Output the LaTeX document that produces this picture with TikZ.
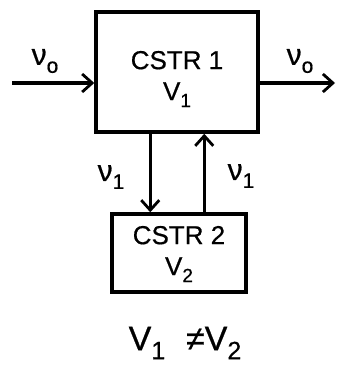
\documentclass[tikz,border=0pt]{standalone}
\usepackage{fontspec}
\setmainfont[FakeBold=0.6]{Liberation Sans}
\usetikzlibrary{arrows.meta}
\newcommand{\lowsub}[2][19]{\raisebox{-0.5ex}{\fontsize{#1}{#1}\selectfont #2}}
\tikzstyle{reactor} = [rectangle, draw=black, line width=3.5pt, text centered, align=center]
\tikzstyle{arrow} = [line width=3.2pt, -{Straight Barb[length=10pt,width=18pt,line width=2.8pt]}]
\tikzstyle{flow} = [font=\fontsize{30}{30}\selectfont]
\begin{document}
\begin{tikzpicture}[x=1pt,y=-1pt]
\useasboundingbox (0,0) rectangle (337,369);
\node (cstr1) [reactor, minimum width=162pt, minimum height=120pt] at (177,72) {};
\node (cstr2) [reactor, minimum width=134pt, minimum height=78pt] at (179,253) {};
\node (txt1) [font=\fontsize{26}{31}\selectfont, align=center] at (177,79) {CSTR 1\\V\lowsub{1}};
\node (txt2) [font=\fontsize{26}{31}\selectfont, align=center] at (179,254) {CSTR 2\\V\lowsub{2}};
\coordinate (feed) at (12,83);
\coordinate (exit) at (335,83);

\draw [arrow] (feed) -- (feed -| cstr1.west);
\draw [arrow] (exit -| cstr1.east) -- (exit);
\draw [arrow] ([xshift=56pt]cstr1.south west) -- ([xshift=56pt]cstr1.south west |- cstr2.north);
\draw [arrow] ([xshift=110pt]cstr1.south west |- cstr2.north) -- ([xshift=110pt]cstr1.south west);

\node (nuin) [flow] at (45,61) {ν\lowsub[21]{o}};
\node (nuout) [flow] at (300,61) {ν\lowsub[21]{o}};
\node (nudown) [flow] at (111,177) {ν\lowsub[21]{1}};
\node (nuup) [flow] at (241,176) {ν\lowsub[21]{1}};
\node (ineq) [font=\fontsize{34}{34}\selectfont] at (185,343) {V\lowsub[25]{1}\,\, ≠V\lowsub[25]{2}};
\end{tikzpicture}
\end{document}
